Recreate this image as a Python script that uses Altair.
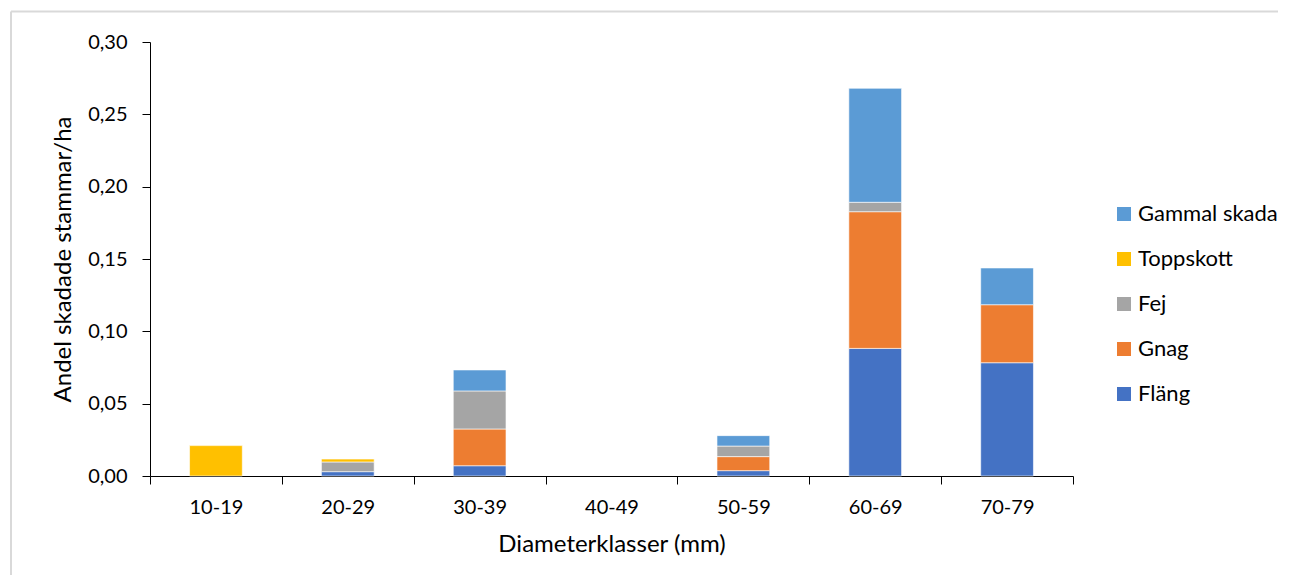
import altair as alt
import pandas as pd

categories = ["10-19", "20-29", "30-39", "40-49", "50-59", "60-69", "70-79"]
series = ["Fläng", "Gnag", "Fej", "Toppskott", "Gammal skada"]
flang = [0.0, 0.0030, 0.0071, 0.0, 0.0037, 0.0882, 0.0783]
gnag = [0.0, 0.0, 0.0254, 0.0, 0.0097, 0.0945, 0.0401]
fej = [0.0, 0.0067, 0.0263, 0.0, 0.0073, 0.0065, 0.0]
toppskott = [0.0210, 0.0020, 0.0, 0.0, 0.0, 0.0, 0.0]
gammal = [0.0, 0.0, 0.0145, 0.0, 0.0072, 0.0788, 0.0254]
colors = ["#4472C4", "#ED7D31", "#A5A5A5", "#FFC000", "#5B9BD5"]
y_ticks = [0.0, 0.05, 0.10, 0.15, 0.20, 0.25, 0.30]

values = [flang, gnag, fej, toppskott, gammal]
rows = []
for si, (name, vals) in enumerate(zip(series, values)):
    for c, v in zip(categories, vals):
        if v > 0:
            rows.append({"klass": c, "serie": name, "idx": si, "andel": v})
df = pd.DataFrame(rows)

FONT = "Lato"
W, H = 923, 434

bars = alt.Chart(df).mark_bar(
    width=alt.RelativeBandSize(0.4), stroke="white", strokeWidth=0.6
).encode(
    x=alt.X(
        "klass:N",
        sort=categories,
        scale=alt.Scale(domain=categories, paddingInner=0, paddingOuter=0),
        axis=alt.Axis(
            title="Diameterklasser (mm)",
            tickBand="extent",
            tickSize=8,
            tickColor="#000000",
            domainColor="#000000",
            labelAngle=0,
            labelFontSize=20,
            labelPadding=13,
            labelColor="#000000",
            titleFontSize=24,
            titleFontWeight="normal",
            titleColor="#000000",
            titlePadding=15,
        ),
    ),
    y=alt.Y(
        "andel:Q",
        stack="zero",
        scale=alt.Scale(domain=[0, 0.30], nice=False),
        axis=alt.Axis(
            title="Andel skadade stammar/ha",
            values=y_ticks,
            labelExpr="replace(format(datum.value, '.2f'), '.', ',')",
            grid=False,
            tickSize=8,
            tickColor="#000000",
            domainColor="#000000",
            labelFontSize=20,
            labelPadding=15,
            labelColor="#000000",
            titleFontSize=24,
            titleFontWeight="normal",
            titleColor="#000000",
            titlePadding=12,
        ),
    ),
    color=alt.Color(
        "serie:N",
        scale=alt.Scale(domain=series[::-1], range=colors[::-1]),
        legend=alt.Legend(
            title=None,
            orient="none",
            legendX=963,
            legendY=161,
            symbolType="square",
            symbolSize=196,
            symbolStrokeWidth=0,
            labelFontSize=22,
            labelColor="#000000",
            labelOffset=3,
            rowPadding=23,
            padding=0,
        ),
    ),
    order=alt.Order("idx:Q", sort="ascending"),
)

frame_left = alt.Chart(pd.DataFrame({"a": [0]})).mark_rule(
    color="#D9D9D9", strokeWidth=2
).encode(x=alt.value(-139), y=alt.value(-30.5), y2=alt.value(533))

frame_top = alt.Chart(pd.DataFrame({"a": [0]})).mark_rule(
    color="#D9D9D9", strokeWidth=2
).encode(x=alt.value(-139), x2=alt.value(1128), y=alt.value(-30.5))

chart = alt.layer(bars, frame_left, frame_top).properties(
    width=W,
    height=H,
    padding={"left": 2, "top": 2, "right": 0, "bottom": 0},
    background="white",
).configure(font=FONT).configure_view(strokeWidth=0)

chart.save("out.html", embed_options={"renderer": "svg", "actions": False})
